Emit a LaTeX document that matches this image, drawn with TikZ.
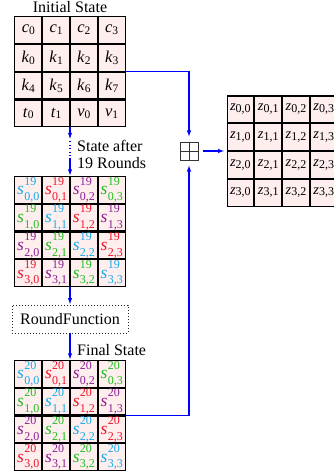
\documentclass[tikz,border=0pt]{standalone}
\usepackage{fontspec}
\setmainfont{Liberation Serif}
\usetikzlibrary{matrix,arrows.meta,calc}
\definecolor{cc}{RGB}{20,170,235}
\definecolor{cr}{RGB}{240,20,40}
\definecolor{cp}{RGB}{140,30,150}
\definecolor{cg}{RGB}{30,190,30}
\definecolor{cellfill}{RGB}{255,238,238}
\definecolor{conncol}{RGB}{0,0,255}
\newcommand\scriptf{\fontsize{12}{12}\selectfont}
\newcommand\cv[2]{\textit{#1}\raisebox{-1.8pt}{\fontsize{11.5}{11.5}\selectfont #2}}
\newcommand\scell[4]{\textcolor{#1}{\textit{#2}\kern0.3pt\rlap{\raisebox{9.5pt}{\scriptf #3}}\raisebox{-5.8pt}{\scriptf #4}}}
\newcommand\zv[2]{\textit{#1}\raisebox{-1.5pt}{\fontsize{12}{12}\selectfont #2}}
\tikzset{
  cellbox/.style={draw=black, line width=1.1pt, fill=cellfill, minimum size=26.7pt,
    inner sep=0pt, outer sep=0pt, anchor=center, font=\fontsize{16.5}{16.5}\selectfont},
  statemat/.style={matrix of nodes, nodes={cellbox}, column sep=0pt, row sep=0pt,
    inner sep=0pt, outer sep=0pt},
  conn/.style={draw=conncol, line width=1.2pt, -{Latex[length=6.5pt,width=4.5pt]}},
  lbl/.style={font=\fontsize{16}{17}\selectfont, inner sep=0pt},
}
\begin{document}
\begin{tikzpicture}[x=1pt,y=-1pt]
\useasboundingbox (0,0) rectangle (334,473);

\node[lbl] (t1) at (70,7) {Initial State};

\matrix (g1) [statemat] at (70,71.7) {
\cv{c}{0} & \cv{c}{1} & \cv{c}{2} & \cv{c}{3} \\
\cv{k}{0} & \cv{k}{1} & \cv{k}{2} & \cv{k}{3} \\
\cv{k}{4} & \cv{k}{5} & \cv{k}{6} & \cv{k}{7} \\
\cv{t}{0} & \cv{t}{1} & \cv{v}{0} & \cv{v}{1} \\
};

\matrix (g2) [statemat, nodes={font=\fontsize{17.5}{17.5}\selectfont}] at (70,231.4) {
\scell{cc}{s}{19}{0,0} & \scell{cr}{s}{19}{0,1} & \scell{cp}{s}{19}{0,2} & \scell{cg}{s}{19}{0,3} \\
\scell{cg}{s}{19}{1,0} & \scell{cc}{s}{19}{1,1} & \scell{cr}{s}{19}{1,2} & \scell{cp}{s}{19}{1,3} \\
\scell{cp}{s}{19}{2,0} & \scell{cg}{s}{19}{2,1} & \scell{cc}{s}{19}{2,2} & \scell{cr}{s}{19}{2,3} \\
\scell{cr}{s}{19}{3,0} & \scell{cp}{s}{19}{3,1} & \scell{cg}{s}{19}{3,2} & \scell{cc}{s}{19}{3,3} \\
};

\node[lbl, anchor=west, align=left] (t2) at (77,154.5) {State after\\19 Rounds};

\node[draw=black!85, line width=0.8pt, dash pattern=on 0.8pt off 2.2pt,
  minimum width=116pt, minimum height=28pt, inner sep=0pt,
  font=\fontsize{16}{16}\selectfont] (rf) at (70,319) {RoundFunction};

\node[lbl, anchor=west] (t3) at (77,350) {Final State};

\matrix (g3) [statemat, nodes={font=\fontsize{17.5}{17.5}\selectfont}] at (70,415.4) {
\scell{cc}{s}{20}{0,0} & \scell{cr}{s}{20}{0,1} & \scell{cp}{s}{20}{0,2} & \scell{cg}{s}{20}{0,3} \\
\scell{cg}{s}{20}{1,0} & \scell{cc}{s}{20}{1,1} & \scell{cr}{s}{20}{1,2} & \scell{cp}{s}{20}{1,3} \\
\scell{cp}{s}{20}{2,0} & \scell{cg}{s}{20}{2,1} & \scell{cc}{s}{20}{2,2} & \scell{cr}{s}{20}{2,3} \\
\scell{cr}{s}{20}{3,0} & \scell{cp}{s}{20}{3,1} & \scell{cg}{s}{20}{3,2} & \scell{cc}{s}{20}{3,3} \\
};

\node[draw=black!80, line width=0.8pt, minimum size=18pt, inner sep=0pt, outer sep=5pt,
  path picture={\draw[black!80, line width=0.8pt]
    (path picture bounding box.north) -- (path picture bounding box.south)
    (path picture bounding box.west) -- (path picture bounding box.east);}]
  (plus) at (189,151) {};

\matrix (z) [statemat, anchor=west, nodes={font=\fontsize{14.5}{14.5}\selectfont}] at (226.5,151) {
\zv{z}{0,0} & \zv{z}{0,1} & \zv{z}{0,2} & \zv{z}{0,3} \\
\zv{z}{1,0} & \zv{z}{1,1} & \zv{z}{1,2} & \zv{z}{1,3} \\
\zv{z}{2,0} & \zv{z}{2,1} & \zv{z}{2,2} & \zv{z}{2,3} \\
\zv{z}{3,0} & \zv{z}{3,1} & \zv{z}{3,2} & \zv{z}{3,3} \\
};

\coordinate (d1) at ([yshift=-12pt]g1.south);
\coordinate (d2) at ([yshift=18pt]g2.north);
\draw[conn] (g1.south) -- (d1);
\draw[draw=conncol, line width=1.2pt, dash pattern=on 1pt off 2.5pt] ([yshift=-2pt]d1) -- (d2);
\draw[conn] (d2) -- (g2.north);
\draw[conn] (g2.south) -- (rf.north);
\draw[conn] (rf.south) -- (g3.north);
\draw[conn] (g1.east) -| (plus.north);
\draw[conn] (g3.east) -| (plus.south);
\draw[conn, shorten >=2pt] (plus.east) -- (z.west);
\end{tikzpicture}
\end{document}
